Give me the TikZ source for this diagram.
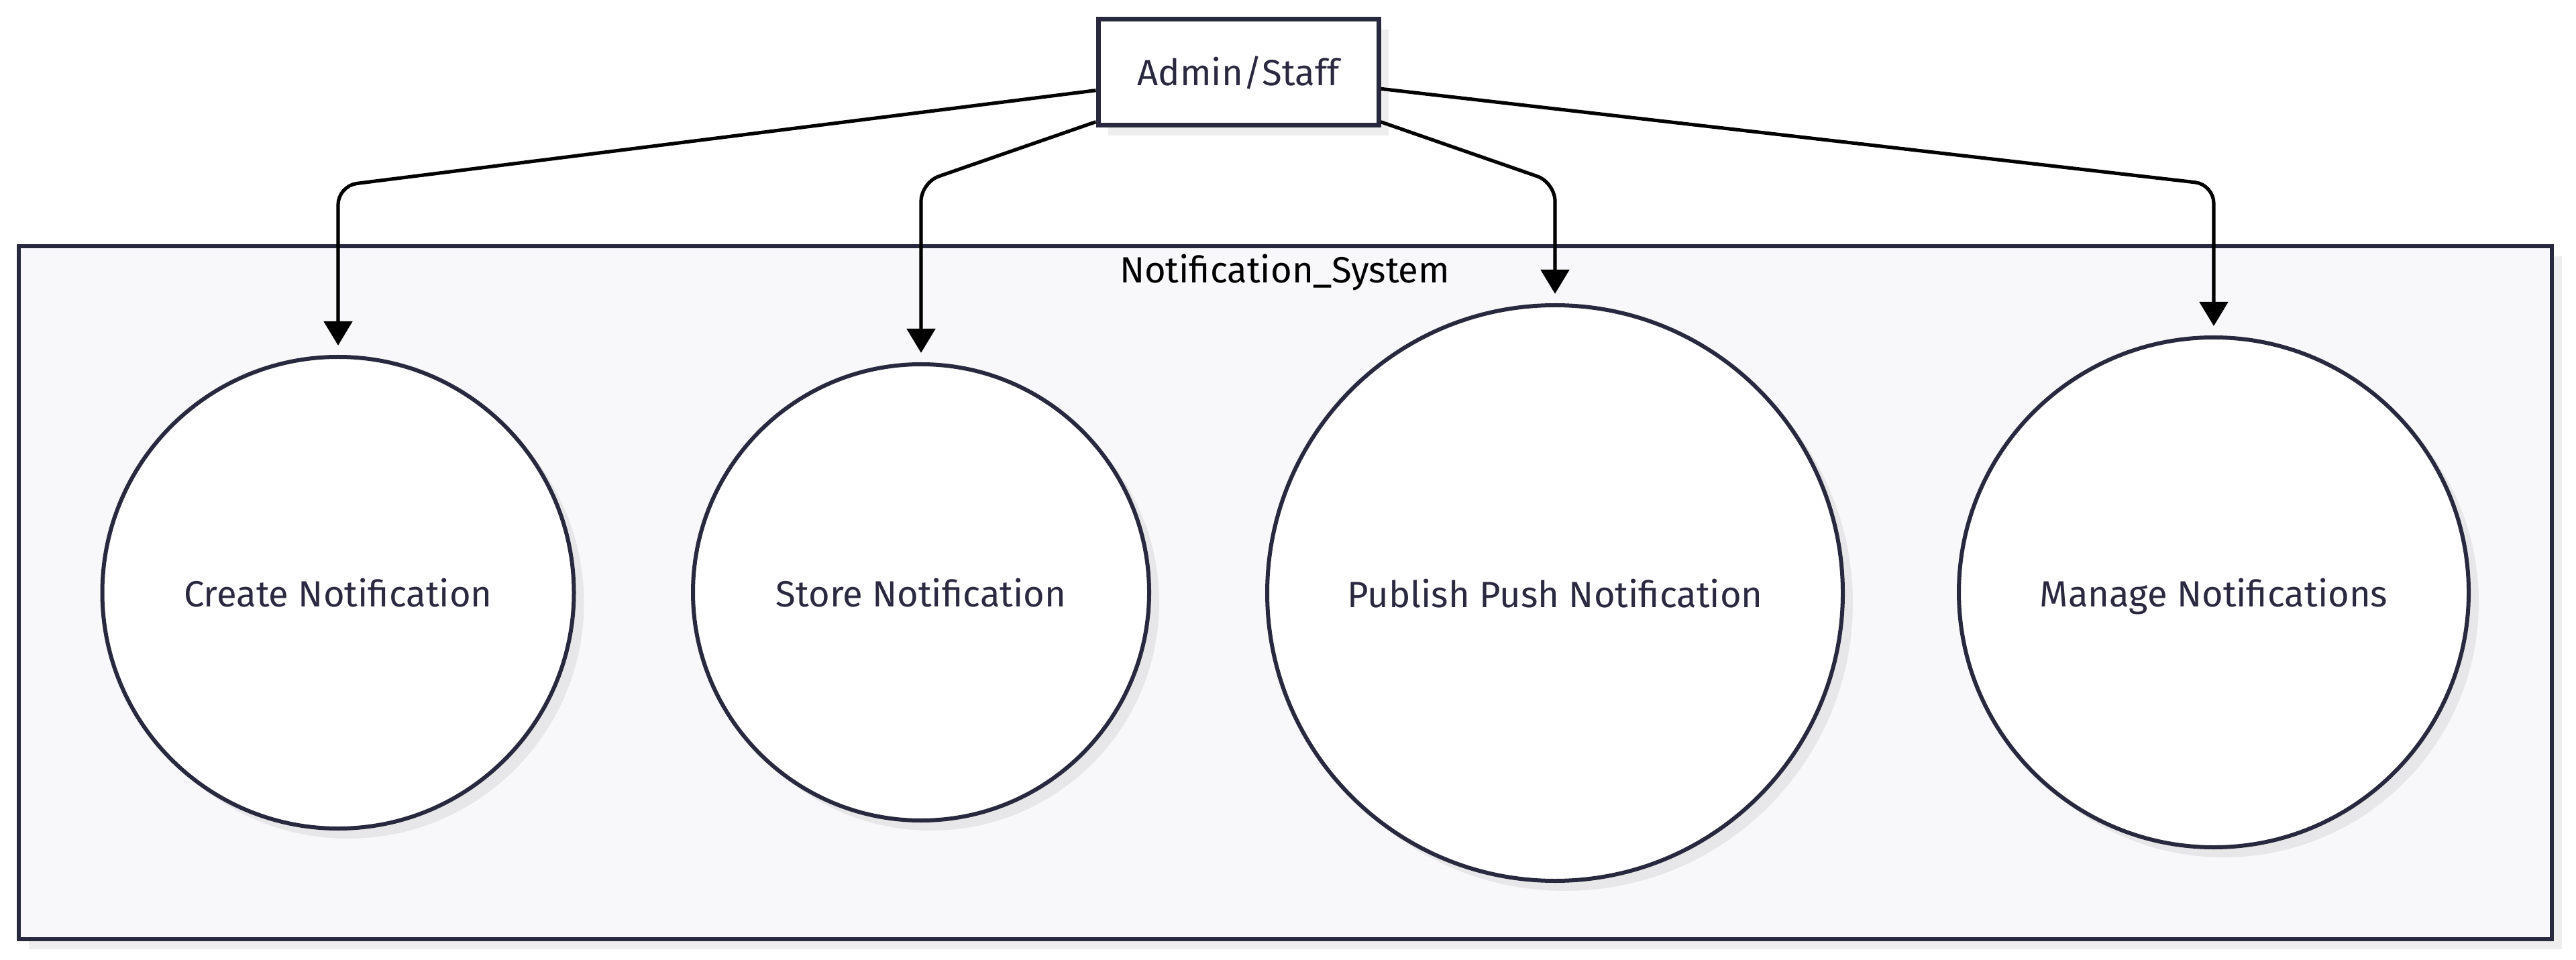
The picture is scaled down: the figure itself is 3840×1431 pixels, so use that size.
\documentclass[tikz,border=0pt]{standalone}
\usepackage{fontspec}
\setmainfont{Fira Sans}
\usetikzlibrary{arrows.meta,shadows}
\definecolor{strokec}{HTML}{28283E}
\definecolor{textc}{HTML}{2A2940}
\definecolor{clusterfill}{HTML}{F8F8FA}
\tikzset{
  px/.style={x=0.25pt,y=-0.25pt},
  shad/.style={drop shadow={shadow xshift=3.75pt,shadow yshift=-3.75pt,fill=black,opacity=0.065}},
  usecase/.style={circle,draw=strokec,line width=1.5pt,fill=white,inner sep=0pt,text=textc,
    text depth=0pt,font=\fontsize{13.6pt}{16pt}\selectfont,shad},
  actor/.style={rectangle,draw=strokec,line width=1.75pt,fill=white,inner sep=0pt,
    minimum width=104.5pt,minimum height=39.5pt,text=textc,font=\fontsize{13.6pt}{16pt}\selectfont,shad},
  cluster/.style={rectangle,draw=strokec,line width=1.6pt,fill=clusterfill,inner sep=0pt,
    minimum width=944pt,minimum height=258.25pt,shad},
  edge/.style={draw=black,line width=1.3pt,rounded corners=7pt,
    -{Triangle[length=9pt,width=10.5pt]},shorten >=3.5pt},
}
\begin{document}
\begin{tikzpicture}[px]
\useasboundingbox (0,0) rectangle (3840,1431);
% cluster
\node[cluster] (sys) at (1916,883.5) {};
\node[font=\fontsize{13.6pt}{16pt}\selectfont,text=black,anchor=base,inner sep=0pt] (systitle) at (1915,422) {Notification\_System};
% actor
\node[actor] (admin) at (1846,108) {Admin/Staff};
% use cases
\node[usecase,minimum size=175.75pt] (create) at (504,883.5) {Create Notification};
\node[usecase,minimum size=170pt] (store) at (1373,883) {Store Notification};
\node[usecase,minimum size=214.5pt] (publish) at (2318,884) {Publish Push Notification};
\node[usecase,minimum size=190pt] (manage) at (3300,883) {Manage Notifications};
% bends
\coordinate (k1) at (504,277);
\coordinate (k2) at (1373,272);
\coordinate (k3) at (2318,272);
\coordinate (k4) at (3300,275);
\draw[edge] (admin) -- (k1) -- (create);
\draw[edge] (admin) -- (k2) -- (store);
\draw[edge] (admin) -- (k3) -- (publish);
\draw[edge] (admin) -- (k4) -- (manage);
\end{tikzpicture}
\end{document}
